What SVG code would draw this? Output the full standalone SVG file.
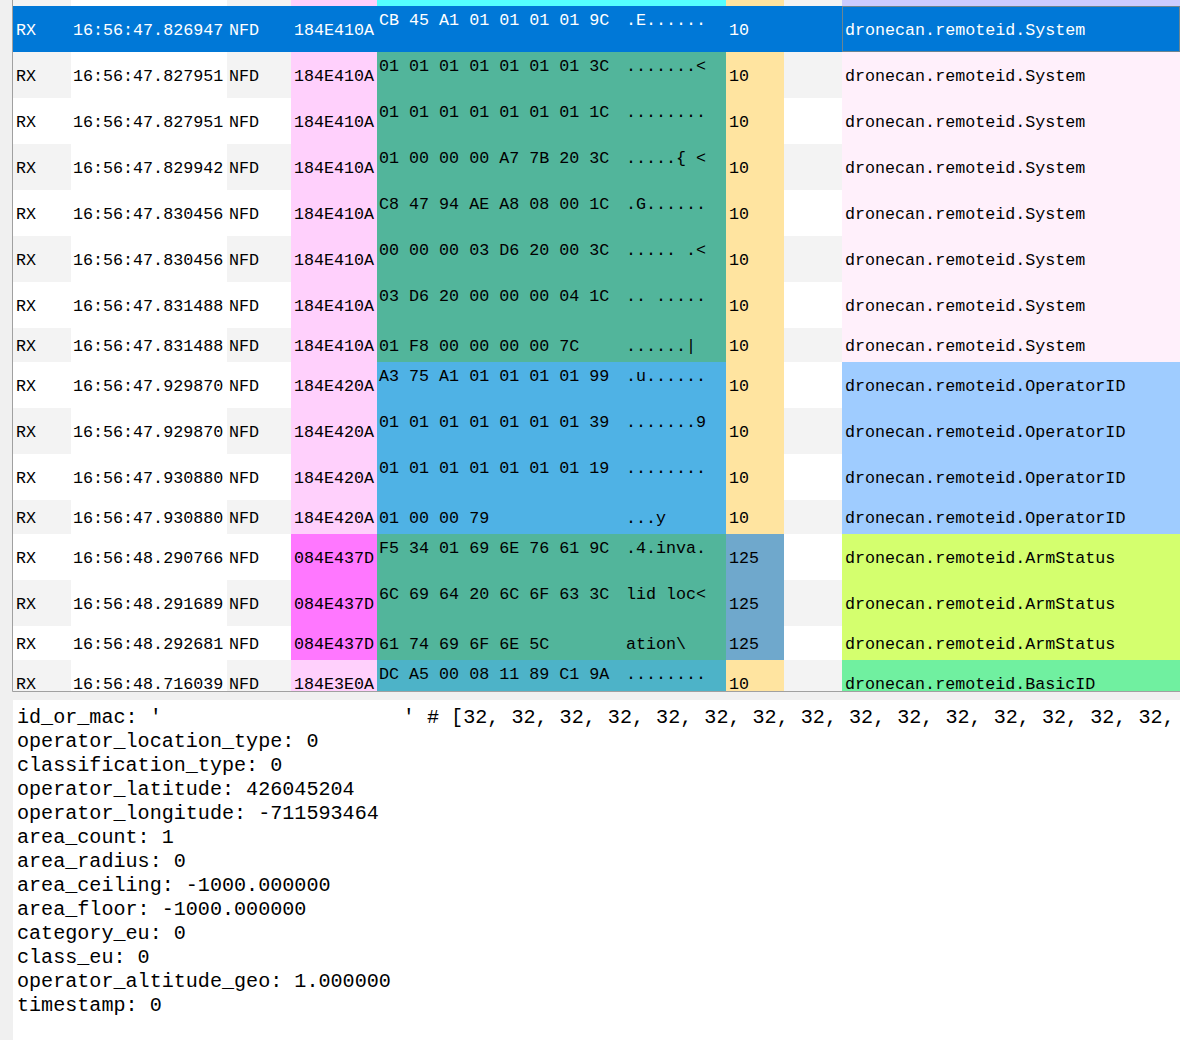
<svg xmlns="http://www.w3.org/2000/svg" width="1180" height="1040" viewBox="0 0 1180 1040">
<style>
.t{font-family:"Liberation Mono","DejaVu Sans Mono",monospace;font-size:16.7px;fill:#000}
.s{fill:#fff}
.b{font-family:"Liberation Mono","DejaVu Sans Mono",monospace;font-size:20.1px;fill:#000}
.g{fill:#f3f3f3}
.wh{fill:#fff}
.pk{fill:#ffd0fc}
.mg{fill:#ff77ff}
.gr{fill:#52b59b}
.bl{fill:#4fb2e5}
.tq{fill:#4db3c8}
.cy{fill:#55ffff}
.yl{fill:#ffe4a0}
.sb{fill:#6fa8cc}
.sys{fill:#fff0fb}
.op{fill:#9fccff}
.arm{fill:#d4ff6e}
.bas{fill:#70f0a0}
.lav{fill:#ccccff}
</style>
<defs>
<clipPath id="tbl"><rect x="13" y="0" width="1167" height="691"/></clipPath>
</defs>
<rect x="0" y="0" width="1180" height="1040" fill="#f0f0f0"/>
<g id="table" clip-path="url(#tbl)">
<rect x="13" y="0" width="1167" height="691" fill="#fff"/>
<g id="row-prev">
<rect x="13" y="-40" width="1167" height="46" class="g"/>
<rect x="71" y="-40" width="156" height="46" class="wh"/>
<rect x="291" y="-40" width="86" height="46" class="pk"/>
<rect x="377" y="-40" width="349" height="46" class="cy"/>
<rect x="726" y="-40" width="58" height="46" class="yl"/>
<rect x="842" y="-40" width="338" height="46" class="lav"/>
</g>
<g id="row-0">
<rect x="13" y="6" width="1167" height="46" fill="#0078d7"/>
<rect x="842.5" y="6.5" width="337" height="45" fill="none" stroke="#d8924a" stroke-width="1" stroke-dasharray="1 1"/>
<text class="t s" x="16" y="35">RX</text>
<text class="t s" x="73" y="35">16:56:47.826947</text>
<text class="t s" x="229" y="35">NFD</text>
<text class="t s" x="294" y="35">184E410A</text>
<text class="t s" x="379" y="24.7">CB 45 A1 01 01 01 01 9C</text>
<text class="t s" x="626" y="24.7">.E......</text>
<text class="t s" x="729" y="35">10</text>
<text class="t s" x="845" y="35">dronecan.remoteid.System</text>
</g>
<g id="row-1">
<rect x="13" y="52" width="1167" height="46" class="g"/>
<rect x="71" y="52" width="156" height="46" class="wh"/>
<rect x="291" y="52" width="86" height="46" class="pk"/>
<rect x="377" y="52" width="349" height="46" class="gr"/>
<rect x="726" y="52" width="58" height="46" class="yl"/>
<rect x="842" y="52" width="338" height="46" class="sys"/>
<text class="t" x="16" y="81">RX</text>
<text class="t" x="73" y="81">16:56:47.827951</text>
<text class="t" x="229" y="81">NFD</text>
<text class="t" x="294" y="81">184E410A</text>
<text class="t" x="379" y="70.7">01 01 01 01 01 01 01 3C</text>
<text class="t" x="626" y="70.7">.......&lt;</text>
<text class="t" x="729" y="81">10</text>
<text class="t" x="845" y="81">dronecan.remoteid.System</text>
</g>
<g id="row-2">
<rect x="291" y="98" width="86" height="46" class="pk"/>
<rect x="377" y="98" width="349" height="46" class="gr"/>
<rect x="726" y="98" width="58" height="46" class="yl"/>
<rect x="842" y="98" width="338" height="46" class="sys"/>
<text class="t" x="16" y="127">RX</text>
<text class="t" x="73" y="127">16:56:47.827951</text>
<text class="t" x="229" y="127">NFD</text>
<text class="t" x="294" y="127">184E410A</text>
<text class="t" x="379" y="116.7">01 01 01 01 01 01 01 1C</text>
<text class="t" x="626" y="116.7">........</text>
<text class="t" x="729" y="127">10</text>
<text class="t" x="845" y="127">dronecan.remoteid.System</text>
</g>
<g id="row-3">
<rect x="13" y="144" width="1167" height="46" class="g"/>
<rect x="71" y="144" width="156" height="46" class="wh"/>
<rect x="291" y="144" width="86" height="46" class="pk"/>
<rect x="377" y="144" width="349" height="46" class="gr"/>
<rect x="726" y="144" width="58" height="46" class="yl"/>
<rect x="842" y="144" width="338" height="46" class="sys"/>
<text class="t" x="16" y="173">RX</text>
<text class="t" x="73" y="173">16:56:47.829942</text>
<text class="t" x="229" y="173">NFD</text>
<text class="t" x="294" y="173">184E410A</text>
<text class="t" x="379" y="162.7">01 00 00 00 A7 7B 20 3C</text>
<text class="t" x="626" y="162.7">.....{ &lt;</text>
<text class="t" x="729" y="173">10</text>
<text class="t" x="845" y="173">dronecan.remoteid.System</text>
</g>
<g id="row-4">
<rect x="291" y="190" width="86" height="46" class="pk"/>
<rect x="377" y="190" width="349" height="46" class="gr"/>
<rect x="726" y="190" width="58" height="46" class="yl"/>
<rect x="842" y="190" width="338" height="46" class="sys"/>
<text class="t" x="16" y="219">RX</text>
<text class="t" x="73" y="219">16:56:47.830456</text>
<text class="t" x="229" y="219">NFD</text>
<text class="t" x="294" y="219">184E410A</text>
<text class="t" x="379" y="208.7">C8 47 94 AE A8 08 00 1C</text>
<text class="t" x="626" y="208.7">.G......</text>
<text class="t" x="729" y="219">10</text>
<text class="t" x="845" y="219">dronecan.remoteid.System</text>
</g>
<g id="row-5">
<rect x="13" y="236" width="1167" height="46" class="g"/>
<rect x="71" y="236" width="156" height="46" class="wh"/>
<rect x="291" y="236" width="86" height="46" class="pk"/>
<rect x="377" y="236" width="349" height="46" class="gr"/>
<rect x="726" y="236" width="58" height="46" class="yl"/>
<rect x="842" y="236" width="338" height="46" class="sys"/>
<text class="t" x="16" y="265">RX</text>
<text class="t" x="73" y="265">16:56:47.830456</text>
<text class="t" x="229" y="265">NFD</text>
<text class="t" x="294" y="265">184E410A</text>
<text class="t" x="379" y="254.7">00 00 00 03 D6 20 00 3C</text>
<text class="t" x="626" y="254.7">..... .&lt;</text>
<text class="t" x="729" y="265">10</text>
<text class="t" x="845" y="265">dronecan.remoteid.System</text>
</g>
<g id="row-6">
<rect x="291" y="282" width="86" height="46" class="pk"/>
<rect x="377" y="282" width="349" height="46" class="gr"/>
<rect x="726" y="282" width="58" height="46" class="yl"/>
<rect x="842" y="282" width="338" height="46" class="sys"/>
<text class="t" x="16" y="311">RX</text>
<text class="t" x="73" y="311">16:56:47.831488</text>
<text class="t" x="229" y="311">NFD</text>
<text class="t" x="294" y="311">184E410A</text>
<text class="t" x="379" y="300.7">03 D6 20 00 00 00 04 1C</text>
<text class="t" x="626" y="300.7">.. .....</text>
<text class="t" x="729" y="311">10</text>
<text class="t" x="845" y="311">dronecan.remoteid.System</text>
</g>
<g id="row-7">
<rect x="13" y="328" width="1167" height="34" class="g"/>
<rect x="71" y="328" width="156" height="34" class="wh"/>
<rect x="291" y="328" width="86" height="34" class="pk"/>
<rect x="377" y="328" width="349" height="34" class="gr"/>
<rect x="726" y="328" width="58" height="34" class="yl"/>
<rect x="842" y="328" width="338" height="34" class="sys"/>
<text class="t" x="16" y="351.3">RX</text>
<text class="t" x="73" y="351.3">16:56:47.831488</text>
<text class="t" x="229" y="351.3">NFD</text>
<text class="t" x="294" y="351.3">184E410A</text>
<text class="t" x="379" y="351.3">01 F8 00 00 00 00 7C</text>
<text class="t" x="626" y="351.3">......|</text>
<text class="t" x="729" y="351.3">10</text>
<text class="t" x="845" y="351.3">dronecan.remoteid.System</text>
</g>
<g id="row-8">
<rect x="291" y="362" width="86" height="46" class="pk"/>
<rect x="377" y="362" width="349" height="46" class="bl"/>
<rect x="726" y="362" width="58" height="46" class="yl"/>
<rect x="842" y="362" width="338" height="46" class="op"/>
<text class="t" x="16" y="391">RX</text>
<text class="t" x="73" y="391">16:56:47.929870</text>
<text class="t" x="229" y="391">NFD</text>
<text class="t" x="294" y="391">184E420A</text>
<text class="t" x="379" y="380.7">A3 75 A1 01 01 01 01 99</text>
<text class="t" x="626" y="380.7">.u......</text>
<text class="t" x="729" y="391">10</text>
<text class="t" x="845" y="391">dronecan.remoteid.OperatorID</text>
</g>
<g id="row-9">
<rect x="13" y="408" width="1167" height="46" class="g"/>
<rect x="71" y="408" width="156" height="46" class="wh"/>
<rect x="291" y="408" width="86" height="46" class="pk"/>
<rect x="377" y="408" width="349" height="46" class="bl"/>
<rect x="726" y="408" width="58" height="46" class="yl"/>
<rect x="842" y="408" width="338" height="46" class="op"/>
<text class="t" x="16" y="437">RX</text>
<text class="t" x="73" y="437">16:56:47.929870</text>
<text class="t" x="229" y="437">NFD</text>
<text class="t" x="294" y="437">184E420A</text>
<text class="t" x="379" y="426.7">01 01 01 01 01 01 01 39</text>
<text class="t" x="626" y="426.7">.......9</text>
<text class="t" x="729" y="437">10</text>
<text class="t" x="845" y="437">dronecan.remoteid.OperatorID</text>
</g>
<g id="row-10">
<rect x="291" y="454" width="86" height="46" class="pk"/>
<rect x="377" y="454" width="349" height="46" class="bl"/>
<rect x="726" y="454" width="58" height="46" class="yl"/>
<rect x="842" y="454" width="338" height="46" class="op"/>
<text class="t" x="16" y="483">RX</text>
<text class="t" x="73" y="483">16:56:47.930880</text>
<text class="t" x="229" y="483">NFD</text>
<text class="t" x="294" y="483">184E420A</text>
<text class="t" x="379" y="472.7">01 01 01 01 01 01 01 19</text>
<text class="t" x="626" y="472.7">........</text>
<text class="t" x="729" y="483">10</text>
<text class="t" x="845" y="483">dronecan.remoteid.OperatorID</text>
</g>
<g id="row-11">
<rect x="13" y="500" width="1167" height="34" class="g"/>
<rect x="71" y="500" width="156" height="34" class="wh"/>
<rect x="291" y="500" width="86" height="34" class="pk"/>
<rect x="377" y="500" width="349" height="34" class="bl"/>
<rect x="726" y="500" width="58" height="34" class="yl"/>
<rect x="842" y="500" width="338" height="34" class="op"/>
<text class="t" x="16" y="523.3">RX</text>
<text class="t" x="73" y="523.3">16:56:47.930880</text>
<text class="t" x="229" y="523.3">NFD</text>
<text class="t" x="294" y="523.3">184E420A</text>
<text class="t" x="379" y="523.3">01 00 00 79</text>
<text class="t" x="626" y="523.3">...y</text>
<text class="t" x="729" y="523.3">10</text>
<text class="t" x="845" y="523.3">dronecan.remoteid.OperatorID</text>
</g>
<g id="row-12">
<rect x="291" y="534" width="86" height="46" class="mg"/>
<rect x="377" y="534" width="349" height="46" class="gr"/>
<rect x="726" y="534" width="58" height="46" class="sb"/>
<rect x="842" y="534" width="338" height="46" class="arm"/>
<text class="t" x="16" y="563">RX</text>
<text class="t" x="73" y="563">16:56:48.290766</text>
<text class="t" x="229" y="563">NFD</text>
<text class="t" x="294" y="563">084E437D</text>
<text class="t" x="379" y="552.7">F5 34 01 69 6E 76 61 9C</text>
<text class="t" x="626" y="552.7">.4.inva.</text>
<text class="t" x="729" y="563">125</text>
<text class="t" x="845" y="563">dronecan.remoteid.ArmStatus</text>
</g>
<g id="row-13">
<rect x="13" y="580" width="1167" height="46" class="g"/>
<rect x="71" y="580" width="156" height="46" class="wh"/>
<rect x="291" y="580" width="86" height="46" class="mg"/>
<rect x="377" y="580" width="349" height="46" class="gr"/>
<rect x="726" y="580" width="58" height="46" class="sb"/>
<rect x="842" y="580" width="338" height="46" class="arm"/>
<text class="t" x="16" y="609">RX</text>
<text class="t" x="73" y="609">16:56:48.291689</text>
<text class="t" x="229" y="609">NFD</text>
<text class="t" x="294" y="609">084E437D</text>
<text class="t" x="379" y="598.7">6C 69 64 20 6C 6F 63 3C</text>
<text class="t" x="626" y="598.7">lid loc&lt;</text>
<text class="t" x="729" y="609">125</text>
<text class="t" x="845" y="609">dronecan.remoteid.ArmStatus</text>
</g>
<g id="row-14">
<rect x="291" y="626" width="86" height="34" class="mg"/>
<rect x="377" y="626" width="349" height="34" class="gr"/>
<rect x="726" y="626" width="58" height="34" class="sb"/>
<rect x="842" y="626" width="338" height="34" class="arm"/>
<text class="t" x="16" y="649.3">RX</text>
<text class="t" x="73" y="649.3">16:56:48.292681</text>
<text class="t" x="229" y="649.3">NFD</text>
<text class="t" x="294" y="649.3">084E437D</text>
<text class="t" x="379" y="649.3">61 74 69 6F 6E 5C</text>
<text class="t" x="626" y="649.3">ation\</text>
<text class="t" x="729" y="649.3">125</text>
<text class="t" x="845" y="649.3">dronecan.remoteid.ArmStatus</text>
</g>
<g id="row-15">
<rect x="13" y="660" width="1167" height="46" class="g"/>
<rect x="71" y="660" width="156" height="46" class="wh"/>
<rect x="291" y="660" width="86" height="46" class="pk"/>
<rect x="377" y="660" width="349" height="46" class="tq"/>
<rect x="726" y="660" width="58" height="46" class="yl"/>
<rect x="842" y="660" width="338" height="46" class="bas"/>
<text class="t" x="16" y="689">RX</text>
<text class="t" x="73" y="689">16:56:48.716039</text>
<text class="t" x="229" y="689">NFD</text>
<text class="t" x="294" y="689">184E3E0A</text>
<text class="t" x="379" y="678.7">DC A5 00 08 11 89 C1 9A</text>
<text class="t" x="626" y="678.7">........</text>
<text class="t" x="729" y="689">10</text>
<text class="t" x="845" y="689">dronecan.remoteid.BasicID</text>
</g>
</g>
<g id="table-border" fill="none" stroke="#a0a0a0" stroke-width="1">
<line x1="12.5" y1="0" x2="12.5" y2="691.5"/>
<line x1="12.5" y1="691.5" x2="1180" y2="691.5"/>
</g>
<g id="details">
<rect x="13" y="700" width="1167" height="340" fill="#fff"/>
<text class="b" x="17" y="722.7" xml:space="preserve">id_or_mac: '                    ' # [32, 32, 32, 32, 32, 32, 32, 32, 32, 32, 32, 32, 32, 32, 32,</text>
<text class="b" x="17" y="746.7">operator_location_type: 0</text>
<text class="b" x="17" y="770.7">classification_type: 0</text>
<text class="b" x="17" y="794.7">operator_latitude: 426045204</text>
<text class="b" x="17" y="818.7">operator_longitude: -711593464</text>
<text class="b" x="17" y="842.7">area_count: 1</text>
<text class="b" x="17" y="866.7">area_radius: 0</text>
<text class="b" x="17" y="890.7">area_ceiling: -1000.000000</text>
<text class="b" x="17" y="914.7">area_floor: -1000.000000</text>
<text class="b" x="17" y="938.7">category_eu: 0</text>
<text class="b" x="17" y="962.7">class_eu: 0</text>
<text class="b" x="17" y="986.7">operator_altitude_geo: 1.000000</text>
<text class="b" x="17" y="1010.7">timestamp: 0</text>
</g>
</svg>
